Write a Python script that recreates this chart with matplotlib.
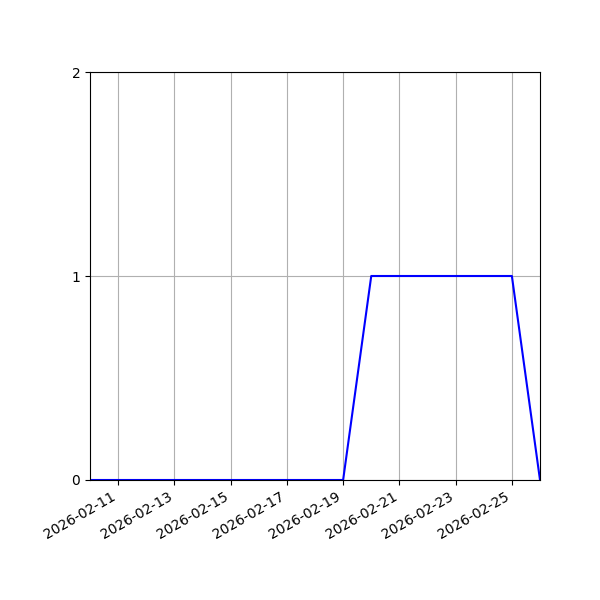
import matplotlib
matplotlib.use("Agg")
import matplotlib.pyplot as plt
import matplotlib.dates as mdates
import pandas as pd

dates = pd.date_range("2026-02-10", "2026-02-26", freq="D")
values = [0, 0, 0, 0, 0, 0, 0, 0, 0, 0, 1, 1, 1, 1, 1, 1, 0]
yticks = [0, 1, 2]

fig, ax = plt.subplots(figsize=(6, 6), dpi=100)
ax.plot(dates, values, color="blue")
ax.set_xlim(dates[0], dates[-1])
ax.set_ylim(0, 2)
ax.set_yticks(yticks)
ax.xaxis.set_major_locator(mdates.DayLocator(bymonthday=range(11, 32, 2)))
ax.xaxis.set_major_formatter(mdates.DateFormatter("%Y-%m-%d"))
ax.grid(True)
fig.autofmt_xdate()
fig.subplots_adjust(left=0.15, right=0.9, top=0.88, bottom=0.2)
fig.savefig("out.png")
